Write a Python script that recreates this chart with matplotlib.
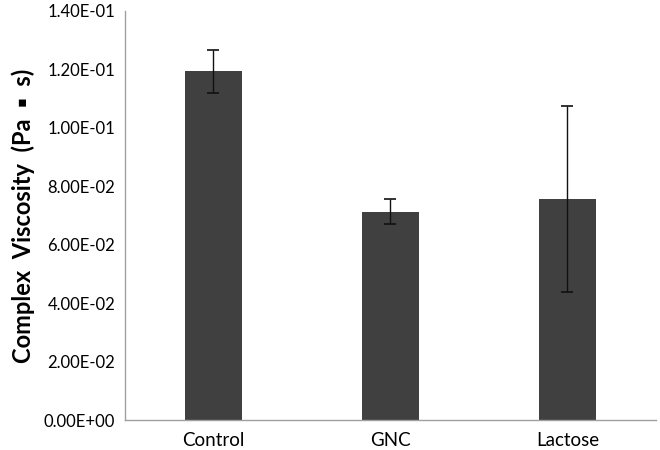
import numpy as np
import matplotlib
matplotlib.use('Agg')
import matplotlib.pyplot as plt
from matplotlib.ticker import FuncFormatter

plt.rcParams['font.family'] = ['Lato', 'DejaVu Sans']

# data
groups = ['Control', 'GNC', 'Lactose']
viscosity = [0.1194, 0.0712, 0.0757]
err_low = [0.1121, 0.0671, 0.0438]
err_high = [0.1268, 0.0756, 0.1074]

vals = np.array(viscosity)
yerr = [vals - np.array(err_low), np.array(err_high) - vals]

fig = plt.figure(figsize=(6.6, 4.5), dpi=100)
ax = fig.add_axes([0.189, 0.0656, 0.805, 0.910])

x = np.arange(len(groups))
ax.bar(x, vals, width=0.32, color='#404040', zorder=2)
ax.errorbar(x, vals, yerr=yerr, fmt='none', ecolor='#111111',
            elinewidth=1, capsize=4, capthick=1.2, zorder=3)

ax.set_xlim(-0.5, 2.5)
ax.set_ylim(0, 0.14)
ax.set_yticks(np.arange(0, 0.1401, 0.02))
ax.yaxis.set_major_formatter(FuncFormatter(lambda v, p: '%.2E' % v))
ax.set_xticks(x)
ax.set_xticklabels(groups)

for s in ['top', 'right']:
    ax.spines[s].set_visible(False)
for s in ['left', 'bottom']:
    ax.spines[s].set_color('#a0a0a0')
    ax.spines[s].set_linewidth(1)
ax.tick_params(axis='both', length=0, colors='black')
ax.tick_params(axis='y', pad=7, labelsize=12)
ax.tick_params(axis='x', pad=8, labelsize=13.5)

ax.set_ylabel('Complex  Viscosity  (Pa  \u25aa  s)', fontsize=17,
              fontweight='bold', labelpad=6)

fig.savefig('out.png', dpi=100)
